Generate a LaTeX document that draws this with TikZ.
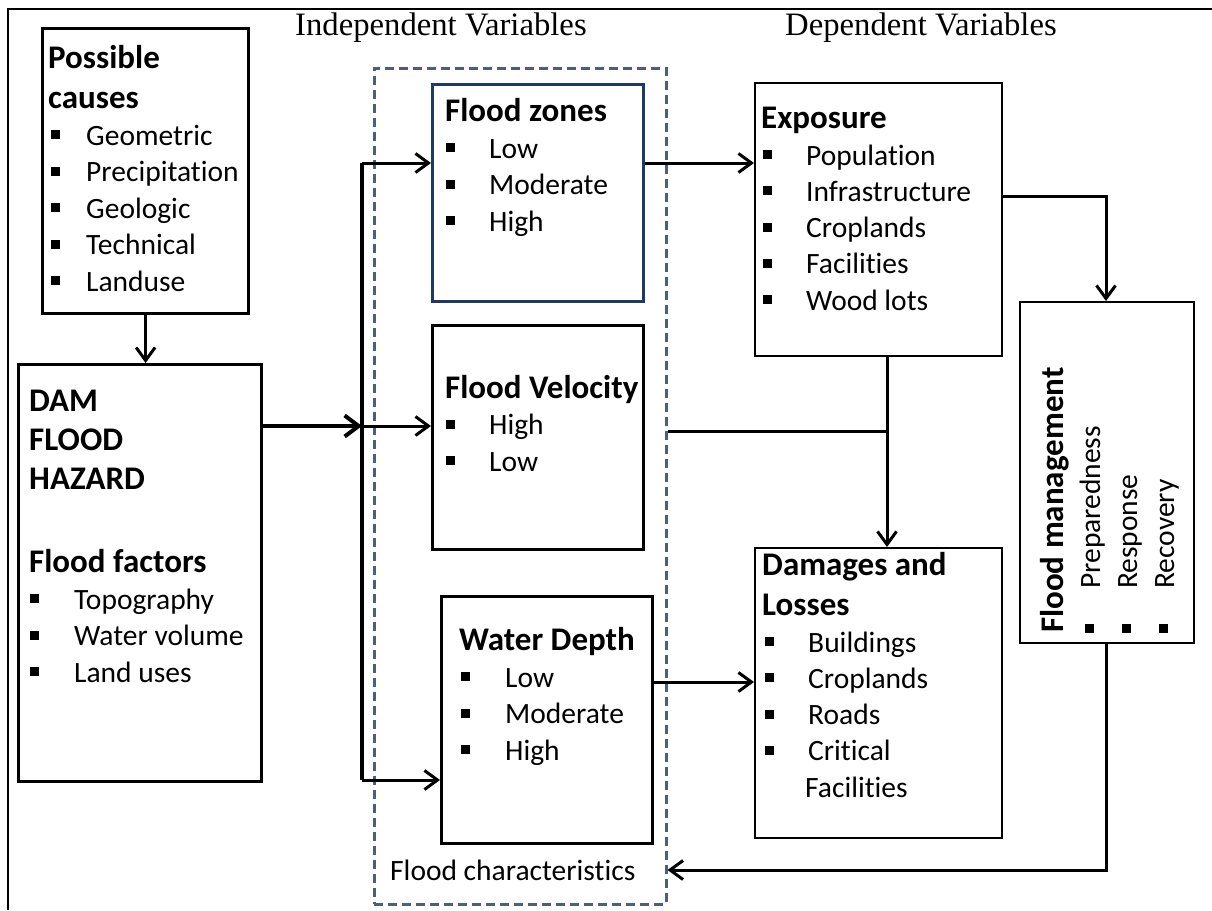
\documentclass[tikz,border=0pt]{standalone}
\usepackage{fontspec}
\setmainfont{Carlito}[Ligatures=NoCommon]
\newfontfamily\serifhead{Liberation Serif}
\usetikzlibrary{arrows.meta,calc}
\definecolor{navyb}{HTML}{1F3864}
\definecolor{slateb}{HTML}{4B5F7C}
\newcommand{\bsq}{\raisebox{6pt}{\rule{9pt}{9pt}}}
\newcommand{\itm}[2][43pt]{\makebox[#1][l]{\bsq}#2}
\begin{document}
\begin{tikzpicture}[x=1pt,y=-1pt,
  bx/.style={draw, inner sep=0pt, anchor=north west, line width=3.2pt},
  bxthin/.style={bx, line width=2.3pt},
  txt/.style={anchor=base west, inner sep=0pt, font=\fontsize{29.5}{35}\selectfont},
  head/.style={anchor=base west, inner sep=0pt, font=\fontsize{33}{40}\selectfont\bfseries},
  ttl/.style={anchor=base west, inner sep=0pt, font=\fontsize{32.7}{38}\selectfont\serifhead},
  arr/.style={line width=3pt, -{Straight Barb[length=13pt,width=19pt]}},
  ln/.style={line width=3pt}]
\useasboundingbox (0,0) rectangle (1212,910);
\fill[white] (0,0) rectangle (1212,910);
% outer frame
\draw[line width=2pt] (8,910) -- (8,9) -- (1212,9);

% titles
\node[ttl] (indep) at (295,35) {Independent Variables};
\node[ttl] (dep) at (785,35) {Dependent Variables};

% boxes
\node[bx, minimum width=206pt, minimum height=285pt] (causes) at (41,27) {};
\node[bx, minimum width=243pt, minimum height=417pt] (dam) at (17,363) {};
\node[draw=slateb, dash pattern=on 9pt off 5pt, line width=2.5pt, inner sep=0pt, anchor=north west,
      minimum width=292pt, minimum height=836pt] (fc) at (373,67) {};
\node[bx, draw=navyb, line width=2.8pt, minimum width=211pt, minimum height=217pt] (zones) at (431,83) {};
\node[bx, minimum width=211pt, minimum height=224pt] (vel) at (431,324) {};
\node[bx, minimum width=211pt, minimum height=247pt] (depth) at (440,595) {};
\node[bxthin, minimum width=247pt, minimum height=273pt] (expo) at (754,82) {};
\node[bxthin, minimum width=247pt, minimum height=290pt] (dmg) at (754,547) {};
\node[bxthin, minimum width=174pt, minimum height=341pt] (fm) at (1019,301) {};

% possible causes
\node[head] (pc1) at (48,68) {Possible};
\node[head] (pc2) at (48,108) {causes};
\foreach \t [count=\i] in {Geometric,Precipitation,Geologic,Technical,Landuse}
  \node[txt] (pci\i) at (51,{145+36.5*(\i-1)}) {\itm[35pt]{\t}};

% dam flood hazard
\node[head] (d1) at (29,411) {DAM};
\node[head] (d2) at (29,450) {FLOOD};
\node[head] (d3) at (29,489) {HAZARD};
\node[head] (d4) at (29,572) {Flood factors};
\foreach \t [count=\i] in {Topography,Water volume,Land uses}
  \node[txt] (ff\i) at (30,{609+36.5*(\i-1)}) {\itm[44pt]{\t}};

% flood zones
\node[head] (z0) at (445,121) {Flood zones};
\foreach \t [count=\i] in {Low,Moderate,High}
  \node[txt] (z\i) at (446,{158+36.5*(\i-1)}) {\itm{\t}};

% flood velocity
\node[head] (v0) at (445,398) {Flood Velocity};
\foreach \t [count=\i] in {High,Low}
  \node[txt] (v\i) at (446,{434.5+36.5*(\i-1)}) {\itm{\t}};

% water depth
\node[head] (w0) at (459,650) {Water Depth};
\foreach \t [count=\i] in {Low,Moderate,High}
  \node[txt] (w\i) at (461,{687+36.5*(\i-1)}) {\itm[44pt]{\t}};

% flood characteristics
\node[txt] (fct) at (390,880) {Flood characteristics};

% exposure
\node[head] (e0) at (761,128) {Exposure};
\foreach \t [count=\i] in {Population,Infrastructure,Croplands,Facilities,Wood lots}
  \node[txt] (e\i) at (763,{165+36.3*(\i-1)}) {\itm{\t}};

% damages
\node[head] (g0) at (762,575) {Damages and};
\node[head] (g00) at (762,615) {Losses};
\foreach \t [count=\i] in {Buildings,Croplands,Roads,Critical}
  \node[txt] (g\i) at (765,{652+36.3*(\i-1)}) {\itm{\t}};
\node[txt] (g5) at (805,797) {Facilities};

% flood management (rotated)
\node[head, rotate=90] (fm0) at (1063,633) {Flood management};
\node[txt, rotate=90] (fm1) at (1100,633) {\itm[44pt]{Preparedness}};
\node[txt, rotate=90] (fm2) at (1137,633) {\itm[44pt]{Response}};
\node[txt, rotate=90] (fm3) at (1174,633) {\itm[44pt]{Recovery}};

% connectors
\coordinate (jz) at (362,163);
\coordinate (jv) at (362,426);
\coordinate (jd) at (362,780);
\draw[line width=3.5pt] (jz) -- (jd);
\draw[line width=4pt, -{Straight Barb[length=14pt,width=21pt]}] (dam.east |- jv) -- (jv);
\draw[arr] (jz) -- (jz -| zones.west);
\draw[arr] (jv) -- (jv -| vel.west);
\draw[arr] (jd) -- (jd -| depth.west);
\draw[arr] (causes.south) -- (causes.south |- dam.north);
\draw[arr] (jz -| zones.east) -- (jz -| expo.west);
\coordinate (ej) at (1106,196);
\draw[arr] (ej -| expo.east) -- (ej) -- (ej |- fm.north);
\coordinate (vx) at (887,431);
\draw[arr] (vx |- expo.south) -- (vx |- dmg.north);
\draw[ln] (fc.east |- vx) -- (vx);
\coordinate (dj) at (700,682);
\draw[arr] (dj -| depth.east) -- (dj -| dmg.west);
\coordinate (rb) at (1106,870);
\draw[arr] (rb |- fm.south) -- (rb) -- (rb -| fc.east);
\end{tikzpicture}
\end{document}
